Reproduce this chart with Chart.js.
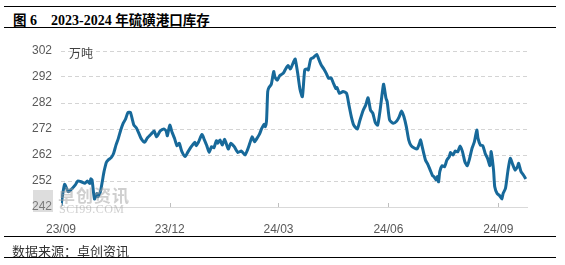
<!DOCTYPE html>
<html>
<head>
<meta charset="utf-8">
<script src="https://cdn.jsdelivr.net/npm/chart.js@4.4.0/dist/chart.umd.min.js"></script>
<style>
body { margin: 0; background: #fff; }
#wrap { position: relative; width: 565px; height: 265px; overflow: hidden; }
.rule { position: absolute; left: 4px; width: 552px; height: 0; border-top: 1.5px solid #000; }
#title { position: absolute; left: 13px; top: 9px; font: bold 14px "Liberation Serif", "Noto Sans CJK SC"; white-space: pre; color: #000; }
#title .cn { font-family: "Noto Sans CJK SC"; font-size: 13.5px; }
#source { position: absolute; left: 12px; top: 241px; font: 13px "Noto Sans CJK SC"; color: #333; }
#box { position: absolute; left: 0; top: 30px; width: 565px; height: 205px; }
.wm { position: absolute; color: rgba(160,160,160,0.5); white-space: pre; }
#wm1 { left: 58px; top: 182px; font: bold 17px "Noto Sans CJK SC"; letter-spacing: 1px; }
#wm2 { left: 59px; top: 202px; font: 12px "Liberation Serif"; letter-spacing: 0.5px; }
#wmlogo { position: absolute; left: 33px; top: 190px; width: 20px; height: 22px; background: rgba(170,170,170,0.4); }
</style>
</head>
<body>
<div id="wrap">
  <div class="rule" style="top:6px"></div>
  <div id="title"><span class="cn">图</span> 6    2023-2024 <span class="cn">年硫磺港口库存</span></div>
  <div class="rule" style="top:27px"></div>
  <div id="box"><canvas id="stockChart" width="565" height="205"></canvas></div>
  <div id="wmlogo"></div>
  <div class="wm" id="wm1">卓创资讯</div>
  <div class="wm" id="wm2">SCI99.COM</div>
  <div class="rule" style="top:236px"></div>
  <div id="source">数据来源：卓创资讯</div>
  <div class="rule" style="top:257px"></div>
</div>
<script>
// sulphur port inventory, 10k tonnes
const dates = [
  '2023-09-01','2023-09-04','2023-09-07','2023-09-09','2023-09-13','2023-09-15','2023-09-18','2023-09-21','2023-09-23','2023-09-25',
  '2023-09-26','2023-09-27','2023-09-29','2023-10-01','2023-10-02','2023-10-04','2023-10-06','2023-10-07','2023-10-09','2023-10-11',
  '2023-10-13','2023-10-15','2023-10-17','2023-10-19','2023-10-21','2023-10-23','2023-10-25','2023-10-27','2023-10-29','2023-10-31',
  '2023-11-01','2023-11-03','2023-11-05','2023-11-07','2023-11-10','2023-11-12','2023-11-16','2023-11-18','2023-11-20','2023-11-23',
  '2023-11-26','2023-11-28','2023-11-29','2023-12-01','2023-12-03','2023-12-05','2023-12-07','2023-12-09','2023-12-11','2023-12-14',
  '2023-12-16','2023-12-19','2023-12-20','2023-12-22','2023-12-23','2023-12-25','2023-12-28','2023-12-30','2024-01-01','2024-01-03',
  '2024-01-05','2024-01-07','2024-01-09','2024-01-10','2024-01-12','2024-01-14','2024-01-16','2024-01-19','2024-01-21','2024-01-24',
  '2024-01-27','2024-01-30','2024-02-02','2024-02-04','2024-02-06','2024-02-08','2024-02-10','2024-02-12','2024-02-14','2024-02-16',
  '2024-02-18','2024-02-19','2024-02-20','2024-02-21','2024-02-22','2024-02-24','2024-02-26','2024-02-27','2024-02-29','2024-03-02',
  '2024-03-05','2024-03-07','2024-03-09','2024-03-11','2024-03-14','2024-03-15','2024-03-17','2024-03-19','2024-03-21','2024-03-23',
  '2024-03-25','2024-03-26','2024-03-28','2024-03-30','2024-04-02','2024-04-04','2024-04-06','2024-04-08','2024-04-10','2024-04-12',
  '2024-04-14','2024-04-16','2024-04-18','2024-04-19','2024-04-21','2024-04-24','2024-04-27','2024-04-29','2024-05-01','2024-05-03',
  '2024-05-06','2024-05-08','2024-05-11','2024-05-13','2024-05-15','2024-05-17','2024-05-19','2024-05-21','2024-05-23','2024-05-25',
  '2024-05-27','2024-05-28','2024-05-30','2024-05-31','2024-06-02','2024-06-05','2024-06-08','2024-06-10','2024-06-12','2024-06-14',
  '2024-06-16','2024-06-18','2024-06-20','2024-06-23','2024-06-25','2024-06-27','2024-06-28','2024-06-29','2024-07-02','2024-07-04',
  '2024-07-06','2024-07-08','2024-07-09','2024-07-11','2024-07-12','2024-07-13','2024-07-14','2024-07-16','2024-07-18','2024-07-20',
  '2024-07-22','2024-07-23','2024-07-25','2024-07-27','2024-07-29','2024-07-31','2024-08-02','2024-08-04','2024-08-06','2024-08-08',
  '2024-08-10','2024-08-12','2024-08-14','2024-08-15','2024-08-17','2024-08-19','2024-08-21','2024-08-23','2024-08-25','2024-08-26',
  '2024-08-28','2024-08-29','2024-08-31','2024-09-02','2024-09-04','2024-09-05','2024-09-07','2024-09-09','2024-09-11','2024-09-13',
  '2024-09-15','2024-09-17','2024-09-18','2024-09-20','2024-09-22','2024-09-24'
];
const stock = [
  242.5, 250.7, 247.9, 248.5, 250.5, 252.0, 251.7, 251.1, 252.0, 251.0,
  252.8, 252.4, 245.1, 247.2, 246.0, 247.9, 253.0, 255.6, 259.2, 260.3,
  261.0, 262.6, 265.8, 268.4, 271.6, 274.2, 275.8, 278.3, 278.4, 275.1,
  273.5, 272.5, 270.5, 268.4, 266.9, 268.4, 270.3, 271.2, 269.0, 271.2,
  272.0, 271.2, 269.4, 273.5, 270.7, 268.4, 265.6, 266.5, 263.5, 261.4,
  263.0, 265.2, 265.8, 266.9, 265.6, 266.9, 269.9, 267.8, 265.6, 263.0,
  265.2, 264.8, 267.5, 266.5, 267.8, 265.8, 268.0, 264.3, 266.5, 265.2,
  263.0, 263.5, 262.0, 263.9, 266.5, 269.0, 267.1, 268.4, 269.9, 272.2,
  273.8, 272.9, 275.1, 286.4, 287.9, 289.2, 294.1, 292.1, 290.8, 292.5,
  293.4, 295.1, 296.4, 295.1, 298.2, 298.9, 293.7, 287.3, 284.4, 294.7,
  295.1, 294.7, 298.9, 299.4, 300.7, 298.5, 296.4, 295.1, 293.4, 291.5,
  291.7, 289.6, 287.6, 287.9, 285.7, 286.4, 285.7, 281.2, 276.7, 273.5,
  272.0, 275.1, 279.3, 281.2, 284.0, 279.3, 278.0, 274.5, 273.5, 279.0,
  286.4, 289.2, 283.8, 282.5, 275.5, 274.2, 275.1, 276.7, 278.9, 276.7,
  272.9, 267.8, 265.6, 264.6, 264.3, 266.5, 267.8, 265.8, 260.1, 258.4,
  256.2, 254.0, 253.7, 252.4, 253.7, 251.7, 255.6, 257.9, 257.5, 260.1,
  261.4, 263.0, 262.0, 263.5, 263.2, 265.5, 263.3, 259.4, 257.9, 260.7,
  264.6, 267.1, 271.6, 268.4, 265.8, 265.6, 262.6, 260.7, 257.9, 263.3,
  256.2, 249.8, 247.2, 246.4, 245.1, 247.2, 249.2, 255.8, 260.7, 258.4,
  256.2, 257.5, 258.8, 255.6, 254.3, 252.8
];
const tickDates = ['2023-09-01', '2023-12-01', '2024-03-01', '2024-06-01', '2024-09-01'];
const tickLabels = ['23/09', '23/12', '24/03', '24/06', '24/09'];
const yTicks = [242, 252, 262, 272, 282, 292, 302];
const unit = '万吨';
const startDate = '2023-09-01';
const endDate = '2024-09-25';

const dayOf = d => (Date.parse(d) - Date.parse(startDate)) / 86400000;

const extras = {
    id: 'extras',
    afterDraw(chart) {
        const ctx = chart.ctx;
        const area = chart.chartArea;
        const xs = chart.scales.x;
        ctx.save();
        // small inward tick marks on the date axis
        ctx.strokeStyle = '#bfbfbf';
        ctx.lineWidth = 1;
        xs.ticks.forEach(t => {
            const px = Math.round(xs.getPixelForValue(t.value)) + 0.5;
            ctx.beginPath();
            ctx.moveTo(px, area.bottom - 4);
            ctx.lineTo(px, area.bottom);
            ctx.stroke();
        });
        // unit label
        ctx.fillStyle = '#404040';
        ctx.font = '12px "Noto Sans CJK SC"';
        ctx.textBaseline = 'middle';
        ctx.fillText(unit, area.left + 8, area.top + 2);
        ctx.restore();
    }
};

const stockChart = new Chart(
    document.getElementById('stockChart'),
    {
    type: 'line',
    data: {
        datasets: [{
            data: dates.map((d, i) => ({ x: dayOf(d), y: stock[i] })),
            borderColor: '#17699a',
            borderWidth: 3,
            pointRadius: 0,
            tension: 0.2,
            fill: false
        }]
    },
    options: {
        responsive: false,
        animation: false,
        layout: { padding: { top: 21, right: 38, left: 0, bottom: 0 } },
        plugins: {
            legend: { display: false },
            tooltip: { enabled: false }
        },
        scales: {
            x: {
                type: 'linear',
                min: 0,
                max: dayOf(endDate),
                afterBuildTicks: s => { s.ticks = tickDates.map(d => ({ value: dayOf(d) })); },
                afterFit: s => { s.height = 28; },
                ticks: {
                    autoSkip: false,
                    maxRotation: 0,
                    padding: 7,
                    color: '#595959',
                    font: { family: 'Liberation Sans', size: 12 },
                    callback: (v) => tickLabels[tickDates.findIndex(d => dayOf(d) === v)]
                },
                grid: { display: false },
                border: { display: true, color: '#d9d9d9', width: 1 }
            },
            y: {
                min: 242,
                max: 302,
                afterBuildTicks: s => { s.ticks = yTicks.map(v => ({ value: v })); },
                afterFit: s => { s.width = 61; },
                ticks: {
                    padding: 9,
                    color: '#595959',
                    font: { family: 'Liberation Sans', size: 12 }
                },
                grid: { color: '#d4d4d4', drawTicks: false },
                border: { display: false, dash: [4, 3] }
            }
        }
    },
    plugins: [extras]
    }
);
</script>
</body>
</html>
